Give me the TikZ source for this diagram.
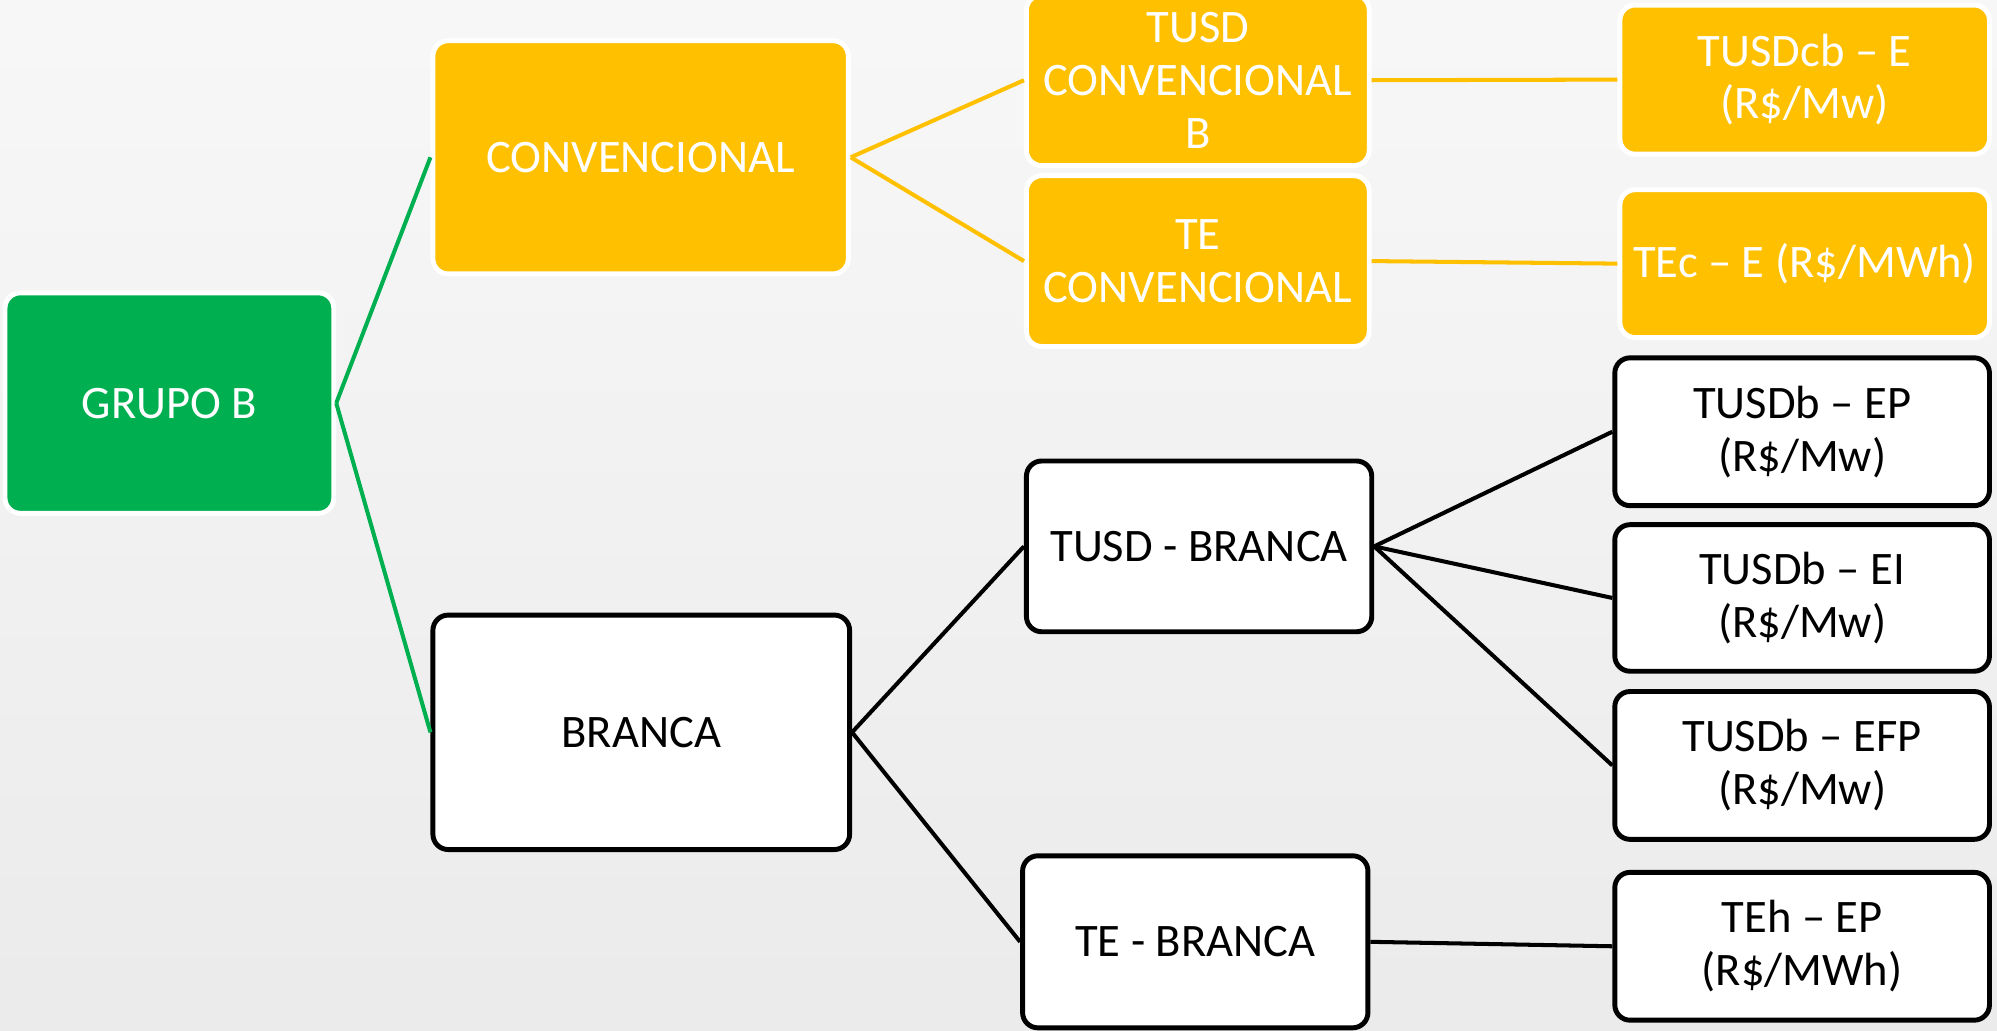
\documentclass[tikz,border=0pt]{standalone}
\usepackage{fontspec}
\setmainfont{Carlito}
\usetikzlibrary{positioning}

\definecolor{verde}{HTML}{00B050}
\definecolor{amarelo}{HTML}{FFC000}

\begin{document}
\begin{tikzpicture}[x=0.01cm, y=-0.01cm,
    caixa/.style={rectangle, rounded corners=0.12cm, align=center, inner sep=1pt,
      font=\fontsize{10.4}{11.8}\selectfont, line width=1.1pt},
    grupo/.style={caixa, fill=verde, draw=white, text=white},
    conv/.style={caixa, fill=amarelo, draw=white, text=white},
    branca/.style={caixa, fill=white, draw=black, text=black},
    ligaverde/.style={draw=verde, line width=0.9pt},
    ligaamarela/.style={draw=amarelo, line width=0.9pt},
    ligapreta/.style={draw=black, line width=0.9pt}]
  % fundo
  \useasboundingbox (0,0) rectangle (1568,809);
  \shade[top color=gray!6, bottom color=gray!16] (0,0) rectangle (1568,809);
  \begin{scope}
    \clip (0,0) rectangle (1568,809);
    % raiz
    \node[grupo, minimum width=2.58cm, minimum height=1.73cm] (g) at (133,316.5) {GRUPO B};
    % convencional
    \node[conv, minimum width=3.26cm, minimum height=1.83cm] (c) at (503,123.5) {CONVENCIONAL};
    \node[conv, minimum width=2.69cm, minimum height=1.34cm] (ct) at (940.5,63) {TUSD\\CONVENCIONAL\\B};
    \node[conv, minimum width=2.69cm, minimum height=1.34cm] (ce) at (940.5,205) {TE\\CONVENCIONAL};
    \node[conv, minimum width=2.90cm, minimum height=1.17cm] (ct1) at (1417,62.5) {TUSDcb -- E\\(R\$/Mw)};
    \node[conv, minimum width=2.90cm, minimum height=1.16cm] (ce1) at (1417,207) {TEc -- E (R\$/MWh)};
    % branca
    \node[branca, minimum width=3.27cm, minimum height=1.84cm] (b) at (503.5,575) {BRANCA};
    \node[branca, minimum width=2.71cm, minimum height=1.34cm] (bt) at (941.5,429) {TUSD - BRANCA};
    \node[branca, minimum width=2.71cm, minimum height=1.35cm] (be) at (938.5,739.5) {TE - BRANCA};
    \node[branca, minimum width=2.94cm, minimum height=1.16cm] (bt1) at (1415,339) {TUSDb -- EP\\(R\$/Mw)};
    \node[branca, minimum width=2.94cm, minimum height=1.15cm] (bt2) at (1415,469.5) {TUSDb -- EI\\(R\$/Mw)};
    \node[branca, minimum width=2.94cm, minimum height=1.16cm] (bt3) at (1415,601) {TUSDb -- EFP\\(R\$/Mw)};
    \node[branca, minimum width=2.94cm, minimum height=1.16cm] (be1) at (1415,743) {TEh -- EP\\(R\$/MWh)};
    % ligacoes
    \draw[ligaverde] (g.east) -- (c.west);
    \draw[ligaverde] (g.east) -- (b.west);
    \draw[ligaamarela] (c.east) -- (ct.west);
    \draw[ligaamarela] (c.east) -- (ce.west);
    \draw[ligaamarela] (ct.east) -- (ct1.west);
    \draw[ligaamarela] (ce.east) -- (ce1.west);
    \draw[ligapreta] (b.east) -- (bt.west);
    \draw[ligapreta] (b.east) -- (be.west);
    \draw[ligapreta] (bt.east) -- (bt1.west);
    \draw[ligapreta] (bt.east) -- (bt2.west);
    \draw[ligapreta] (bt.east) -- (bt3.west);
    \draw[ligapreta] (be.east) -- (be1.west);
  \end{scope}
\end{tikzpicture}
\end{document}
